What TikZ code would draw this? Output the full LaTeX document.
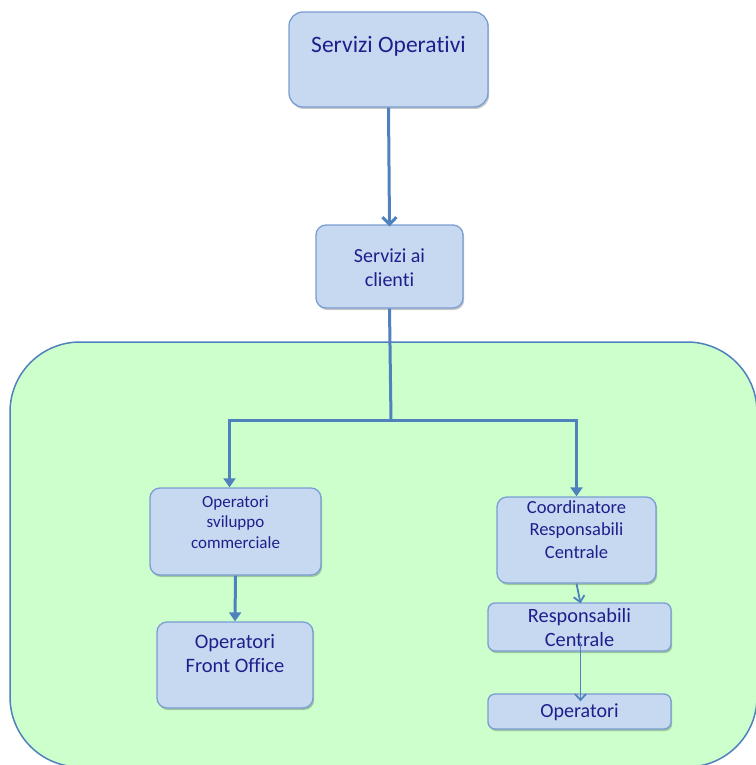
\documentclass[tikz,border=0pt]{standalone}
\usepackage{fontspec}
\setmainfont{Carlito}[Ligatures=CommonOff]
\usetikzlibrary{arrows.meta,shadows}
\definecolor{boxfill}{HTML}{C6D9F1}
\definecolor{boxline}{HTML}{7A9DD2}
\definecolor{arrowc}{HTML}{4F81BD}
\definecolor{greenfill}{HTML}{CCFFCC}
\definecolor{txt}{HTML}{1F1F8C}
\tikzset{
  box/.style={draw=boxline, line width=1.3pt, fill=boxfill, rounded corners=10pt,
    inner sep=0pt, drop shadow={shadow xshift=1.2pt, shadow yshift=-2pt, opacity=0.22, fill=black}},
  lbl/.style={text=txt, align=center, inner sep=0pt},
  mainarrow/.style={draw=arrowc, line width=3pt, -{Triangle[length=9pt,width=12pt]}},
  barbarrow/.style={draw=arrowc, line width=3pt, -{Straight Barb[length=7pt,width=14pt]}},
  mainline/.style={draw=arrowc, line width=3pt},
  thinarrow/.style={draw=arrowc, line width=1.8pt, -{Straight Barb[length=6pt,width=11pt]}},
}
\begin{document}
\begin{tikzpicture}[x=1pt,y=-1pt]
\useasboundingbox (0,0) rectangle (755,765);
% green area
\draw[draw=arrowc, line width=1.5pt, fill=greenfill, rounded corners=70pt] (10,342) rectangle (757,767);

% boxes
\node[box, minimum width=199pt, minimum height=95pt, rounded corners=14pt] (so) at (388.5,59.5) {};
\node[lbl, font=\fontsize{23.5}{28}\selectfont] (sot) at (388.5,46) {Servizi Operativi};

\node[box, minimum width=147pt, minimum height=83pt] (sac) at (389.5,266.5) {};
\node[lbl, font=\fontsize{20}{24.5}\selectfont] (sact) at (389.5,267.5) {Servizi ai\\clienti};

\node[box, minimum width=171pt, minimum height=87pt] (osc) at (235.5,531.5) {};
\node[lbl, font=\fontsize{17}{20.5}\selectfont] (osct) at (235.5,522) {Operatori\\sviluppo\\commerciale};

\node[box, minimum width=156pt, minimum height=86pt] (ofo) at (235,665) {};
\node[lbl, font=\fontsize{20.5}{24}\selectfont] (ofot) at (235,653.5) {Operatori\\Front Office};

\node[box, minimum width=159pt, minimum height=86pt] (crc) at (576.5,540) {};
\node[lbl, font=\fontsize{18.5}{22.7}\selectfont] (crct) at (576.5,529.5) {Coordinatore\\Responsabili\\Centrale};

\node[box, minimum width=183pt, minimum height=48pt, rounded corners=7pt] (rc) at (579.5,627) {};
\node[lbl, font=\fontsize{20.3}{23.5}\selectfont] (rct) at (579.5,627.5) {Responsabili\\Centrale};

\node[box, minimum width=183pt, minimum height=35pt, rounded corners=7pt] (op) at (579.5,711.5) {};
\node[lbl, font=\fontsize{20}{24}\selectfont] (opt) at (579.5,712) {Operatori};

% connectors
\coordinate (j) at (391,420);
\draw[barbarrow] (so.south) -- ([yshift=-2pt]sac.north);
\draw[mainline] (sac.south) -- (j);
\draw[mainarrow] (j) -| ([xshift=-6pt]osc.north);
\draw[mainarrow] (j) -| (crc.north);
\draw[mainarrow] (osc.south) -- (ofo.north);
\draw[thinarrow] (crc.south) -- ([xshift=1pt,yshift=-1pt]rc.north);
\draw[thinarrow] ([xshift=1pt,yshift=10pt]rc.south) -- ([xshift=1pt,yshift=-8pt]op.north);
\end{tikzpicture}
\end{document}
